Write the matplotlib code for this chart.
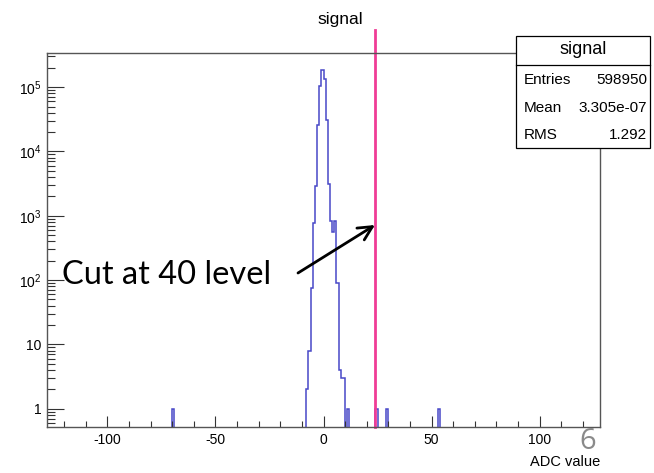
import numpy as np
import matplotlib
matplotlib.use("Agg")
import matplotlib.pyplot as plt
from matplotlib.ticker import FixedLocator, LogLocator, NullFormatter, FuncFormatter

# histogram contents: lower edge of each filled bin (bin width 1) and its count
bin_lo = [-70, -8, -7, -6, -5, -4, -3, -2, -1, 0, 1, 2, 3, 4, 5, 6, 7, 8, 9, 11, 24, 29, 53]
counts = [1, 2, 8, 75, 776, 2950, 26000, 104000, 184000, 132000, 30700, 3140,
          820, 560, 820, 90, 4, 3, 3, 1, 1, 1, 1]

x_range = (-128, 128)
cut_x = 24
x_major = [-100, -50, 0, 50, 100]

stat_names = ["Entries", "Mean", "RMS"]
stat_values = ["598950", "3.305e-07", "1.292"]

plt.rcParams['font.family'] = ['Liberation Sans', 'DejaVu Sans']
plt.rcParams['mathtext.fontset'] = 'custom'
plt.rcParams['mathtext.rm'] = 'Liberation Sans'
plt.rcParams['axes.unicode_minus'] = False

fig = plt.figure(figsize=(6.54, 4.73), dpi=100)
ax = fig.add_axes([47/654, 46/473, 553/654, 374/473])

edges = np.arange(x_range[0], x_range[1] + 1)
h = np.zeros(len(edges) - 1)
for lo, c in zip(bin_lo, counts):
    h[lo - x_range[0]] = c

ymin = 0.52
ax.stairs(np.where(h > 0, h, 0.1), edges, baseline=0.1, color='#4848c8', lw=1.1)

ax.set_yscale('log')
ax.set_xlim(*x_range)
ax.set_ylim(ymin, 3.4e5)

# ticks ROOT-like
ax.xaxis.set_major_locator(FixedLocator(x_major))
ax.xaxis.set_minor_locator(FixedLocator([v for v in range(-120, 130, 10) if v not in x_major]))
ax.yaxis.set_major_locator(LogLocator(base=10, numticks=10))
ax.yaxis.set_minor_locator(LogLocator(base=10, subs=np.arange(2, 10), numticks=20))
ax.yaxis.set_minor_formatter(NullFormatter())


def ylab(v, pos):
    if v < 1.5:
        return "1"
    if v < 15:
        return "10"
    return r"$\mathregular{10^{%d}}$" % round(np.log10(v))


ax.yaxis.set_major_formatter(FuncFormatter(ylab))
ax.tick_params(axis='both', which='both', direction='in', color='#333333', width=0.8,
               labelsize=10, top=False, right=False)
ax.tick_params(axis='x', which='major', length=8, pad=4)
ax.tick_params(axis='x', which='minor', length=4)
ax.tick_params(axis='y', which='major', length=12, pad=4)
ax.tick_params(axis='y', which='minor', length=6)
for s in ax.spines.values():
    s.set_color('#555555')
    s.set_linewidth(1.0)

ax.set_xlabel("ADC value", fontsize=10.5)
ax.xaxis.set_label_coords(1.0, -0.075)
ax.xaxis.label.set_horizontalalignment('right')

# cut line
ax.axvline(cut_x, ymin=0, ymax=1.062, color='#f03c96', lw=2, clip_on=False)

# title
fig.text(0.52, 0.958, "signal", ha='center', va='center', fontsize=12.5)

# stats box
bx0, bx1, by0, by1, bsep = 516/654, 650/654, 148/473, 36/473, 65/473
box = plt.Rectangle((bx0, 1 - by0), bx1 - bx0, by0 - by1, transform=fig.transFigure,
                    facecolor='white', edgecolor='black', lw=0.9, zorder=5)
fig.add_artist(box)
fig.add_artist(plt.Line2D([bx0, bx1], [1 - bsep, 1 - bsep], transform=fig.transFigure,
                          color='black', lw=0.9, zorder=6))
fig.text((bx0 + bx1) / 2, 1 - 50/473, "signal", ha='center', va='center', fontsize=13, zorder=7)
for i, (n, v) in enumerate(zip(stat_names, stat_values)):
    yy = 1 - (80 + 27.5 * i) / 473
    fig.text(524/654, yy, n, ha='left', va='center', fontsize=11, zorder=7)
    fig.text(647/654, yy, v, ha='right', va='center', fontsize=11, zorder=7)

# annotation
ax.annotate("", xy=(375/654, 1 - 225/473), xycoords='figure fraction',
            xytext=(298/654, 1 - 273/473), textcoords='figure fraction',
            arrowprops=dict(arrowstyle='->', color='black', lw=2, mutation_scale=25,
                            shrinkA=0, shrinkB=0))
fig.text(62/654, 1 - 275/473, "Cut at 40 level", ha='left', va='center',
         fontsize=23.5, family=['Lato', 'DejaVu Sans'])
fig.text(588/654, 1 - 441/473, "6", ha='center', va='center', fontsize=21,
         color='#8a8a8a', family=['Open Sans', 'DejaVu Sans'])

fig.savefig("out.png", dpi=100)
